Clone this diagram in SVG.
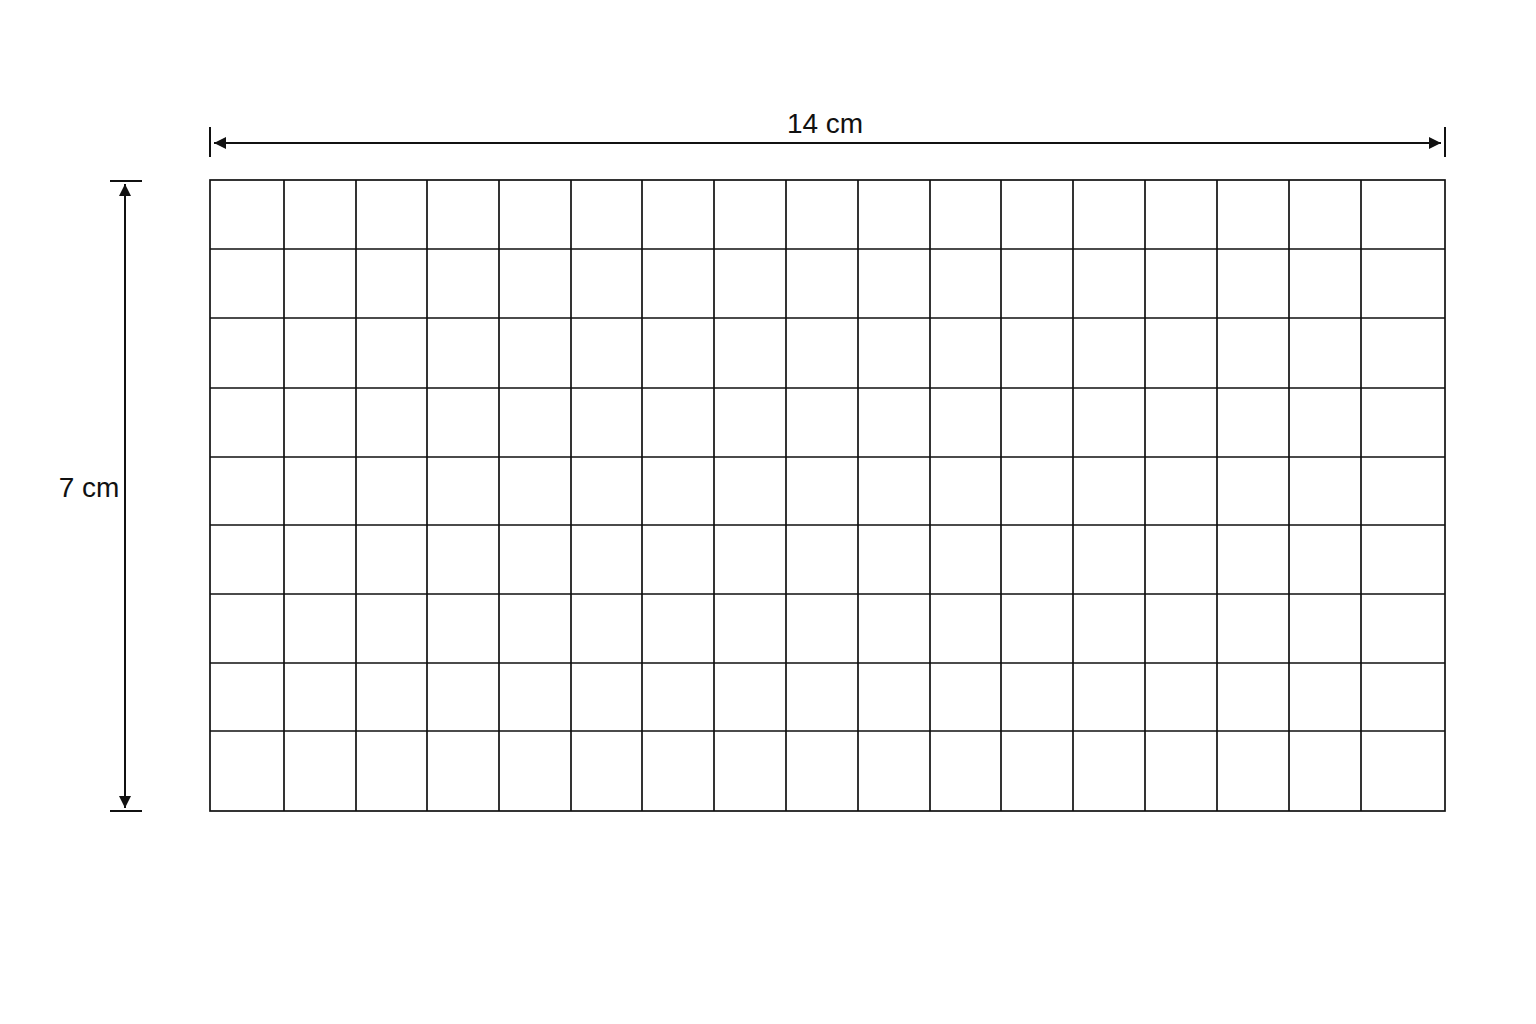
<svg xmlns="http://www.w3.org/2000/svg" width="1536" height="1024" viewBox="0 0 1536 1024">
<style>
.g{stroke:#111;stroke-width:1.7;fill:none}
.d{stroke:#111;stroke-width:2;fill:none}
.t{font-family:"Liberation Sans",Arial,sans-serif;font-size:28px;fill:#111}
</style>
<defs>
<marker id="ah" viewBox="0 0 10 10" refX="10" refY="5" markerWidth="17" markerHeight="12" markerUnits="userSpaceOnUse" orient="auto-start-reverse">
<path d="M0,0 L10,5 L0,10 z" fill="#111"/>
</marker>
</defs>
<rect width="1536" height="1024" fill="#fff"/>
<g id="grid" class="g">
<rect x="210" y="180" width="1235" height="631"/>
<path d="M284,180V811 M356,180V811 M427,180V811 M499,180V811 M571,180V811 M642,180V811 M714,180V811 M786,180V811 M858,180V811 M930,180V811 M1001,180V811 M1073,180V811 M1145,180V811 M1217,180V811 M1289,180V811 M1361,180V811"/>
<path d="M210,249H1445 M210,318H1445 M210,388H1445 M210,457H1445 M210,525H1445 M210,594H1445 M210,663H1445 M210,731H1445"/>
</g>
<g id="connectors">
<g id="dim-width">
<path class="d" d="M210,127V157 M1445,127V157"/>
<line class="d" x1="214" y1="143" x2="1441" y2="143" marker-start="url(#ah)" marker-end="url(#ah)"/>
<text class="t" x="825" y="133" text-anchor="middle">14 cm</text>
</g>
<g id="dim-height">
<path class="d" d="M110,181H142 M110,811H142"/>
<line class="d" x1="125" y1="184" x2="125" y2="808" marker-start="url(#ah)" marker-end="url(#ah)"/>
<text class="t" x="89" y="497" text-anchor="middle">7 cm</text>
</g>
</g>
</svg>
